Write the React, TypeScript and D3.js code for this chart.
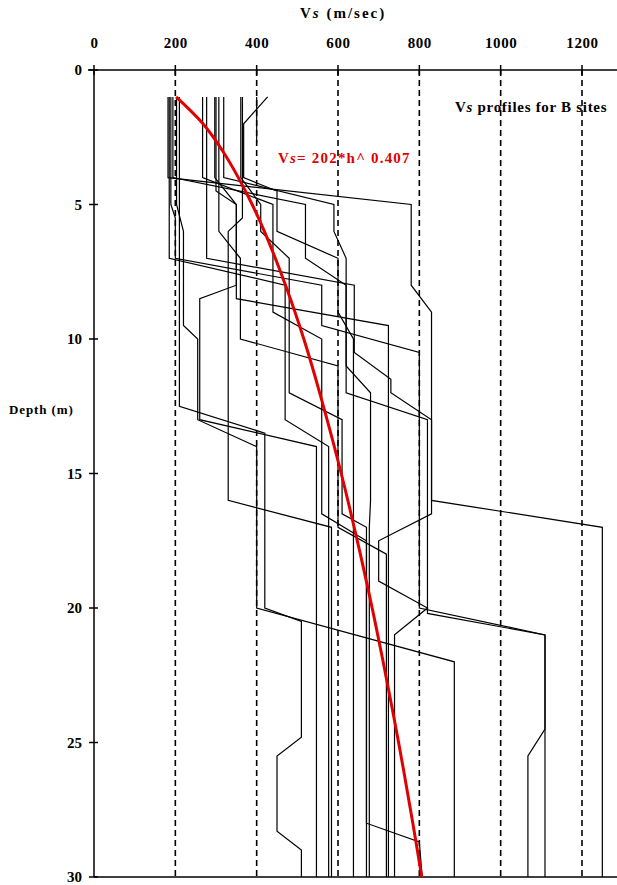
import React from 'react';
import * as d3 from 'd3';

const width = 617;
const height = 885;

// axis ticks
const vsTicks = [0, 200, 400, 600, 800, 1000, 1200];
const gridVs = [200, 400, 600, 800, 1000, 1200];
const depthTicks = [0, 5, 10, 15, 20, 25, 30];

// fitted curve Vs = 202*h^0.407
const fitDepth = [1, 2, 3, 4, 5, 6, 8, 10, 12, 15, 18, 20, 22, 25, 28, 30];
const fitVs = [202, 268, 316, 355, 389, 419, 471, 516, 555, 608, 655, 684, 711, 749, 784, 806];

// site profiles, [vs, depth]
const siteA = [[182, 1], [182, 4], [780, 5], [780, 8], [830, 9], [830, 16], [1250, 17], [1250, 30]];
const siteB = [[189, 1], [189, 5], [200, 5.5], [200, 7], [560, 8], [560, 9.5], [800, 10.5], [800, 20], [1109, 21], [1109, 30]];
const siteC = [[194, 1], [194, 4], [520, 5], [520, 7], [620, 8], [620, 12], [820, 13], [820, 20.2], [1109, 21], [1109, 24.5], [1067, 25.5], [1067, 30]];
const siteD = [[203, 1], [203, 5], [220, 6], [220, 9.5], [255, 10], [255, 13], [400, 14], [400, 20], [886, 22], [886, 30]];
const siteE = [[267, 1], [267, 4], [440, 5], [440, 9], [560, 10], [560, 16.5], [670, 17.5], [670, 28], [800, 28.7], [807, 30]];
const siteF = [[277, 1], [277, 7], [640, 8], [640, 10.5], [730, 11.5], [730, 12], [830, 13], [830, 16.5], [700, 17.5], [700, 19], [820, 20], [739, 21], [739, 30]];
const siteG = [[297, 1], [297, 4], [350, 5], [350, 8.5], [724, 9.5], [724, 30]];
const siteH = [[307, 1], [307, 6], [360, 7], [360, 10], [600, 11], [600, 17], [719, 18], [719, 30]];
const siteI = [[319, 1], [319, 4], [590, 5], [590, 6], [620, 7], [620, 11], [680, 12], [680, 16], [677, 17], [677, 30]];
const siteJ = [[361, 1], [361, 4], [410, 5], [410, 6], [480, 7], [480, 12], [610, 13], [610, 16.5], [670, 17], [670, 30]];
const siteK = [[427, 1], [368, 2], [368, 4], [450, 4.5], [450, 6], [600, 7], [600, 9], [638, 10], [638, 30]];
const siteL = [[365, 1], [365, 5.5], [330, 6], [330, 16], [584, 17], [584, 30]];
const siteM = [[185, 1], [185, 7], [470, 8], [470, 13], [577, 14], [577, 30]];
const siteN = [[300, 1], [300, 4.5], [350, 5], [350, 8], [260, 8.5], [260, 13], [547, 14], [547, 30]];
const siteO = [[210, 1], [210, 12.5], [420, 13.5], [420, 20], [510, 20.5], [510, 24.8], [450, 25.5], [450, 28.3], [510, 29], [510, 30]];
const siteP = [[400, 1], [400, 2.7]];

const profiles = [siteA, siteB, siteC, siteD, siteE, siteF, siteG, siteH, siteI, siteJ, siteK, siteL, siteM, siteN, siteO, siteP];

const font = '"Liberation Serif", "Times New Roman", serif';

export default function App() {
  const x = d3.scaleLinear().domain([0, 1200]).range([94, 582]);
  const y = d3.scaleLinear().domain([0, 30]).range([70, 877]);

  const profileLine = d3.line<number[]>()
    .x(d => x(d[0]))
    .y(d => y(d[1]));

  const fitLine = d3.line<number>()
    .x((d, i) => x(fitVs[i]))
    .y(d => y(d))
    .curve(d3.curveCatmullRom);

  return (
    <svg width={width} height={height} style={{position: 'absolute', left: 0, top: 0, background: '#fff'}}>
      {/* title */}
      <text x={300} y={18} fontFamily={font} fontWeight="bold" fontSize={15} letterSpacing={2}>
        V<tspan fontStyle="italic">s</tspan> (m/sec)
      </text>

      {/* dashed grid */}
      {gridVs.map(v => (
        <line key={v} x1={x(v)} x2={x(v)} y1={y(0)} y2={y(30)}
              stroke="#000" strokeWidth={1.6} strokeDasharray="6,4"/>
      ))}

      {/* top axis */}
      <line x1={88} x2={617} y1={y(0)} y2={y(0)} stroke="#000" strokeWidth={1.5}/>
      {vsTicks.map(v => (
        <g key={v}>
          <line x1={x(v)} x2={x(v)} y1={y(0) - 5} y2={y(0) + 5} stroke="#000" strokeWidth={1.5}/>
          <text x={x(v) + 0.5} y={48} textAnchor="middle" fontFamily={font} fontWeight="bold" fontSize={15} letterSpacing={0.6}>{v}</text>
        </g>
      ))}

      {/* left axis */}
      <line x1={x(0)} x2={x(0)} y1={y(0)} y2={y(30)} stroke="#000" strokeWidth={1.5}/>
      {depthTicks.map(d => (
        <g key={d}>
          <line x1={x(0) - 5} x2={x(0) + 4} y1={y(d)} y2={y(d)} stroke="#000" strokeWidth={1.5}/>
          <text x={82} y={y(d) + 5} textAnchor="end" fontFamily={font} fontWeight="bold" fontSize={15}>{d}</text>
        </g>
      ))}
      <text x={9} y={414} fontFamily={font} fontWeight="bold" fontSize={13} letterSpacing={0.9}>Depth (m)</text>

      {/* bottom line */}
      <line x1={x(0)} x2={617} y1={y(30)} y2={y(30)} stroke="#000" strokeWidth={1.5}/>

      {/* profiles */}
      {profiles.map((p, i) => (
        <path key={i} d={profileLine(p) || ''} fill="none" stroke="#000" strokeWidth={1.2}/>
      ))}

      {/* fitted curve */}
      <path d={fitLine(fitDepth) || ''} fill="none" stroke="#e00000" strokeWidth={3}/>

      <text x={455} y={112} fontFamily={font} fontWeight="bold" fontSize={15} letterSpacing={0.7}>
        V<tspan fontStyle="italic">s</tspan> profiles for B sites
      </text>
      <text x={278} y={163} fontFamily={font} fontWeight="bold" fontSize={15} letterSpacing={1.2} fill="#e00000">
        V<tspan fontStyle="italic">s</tspan>= 202*h^ 0.407
      </text>
    </svg>
  );
}
